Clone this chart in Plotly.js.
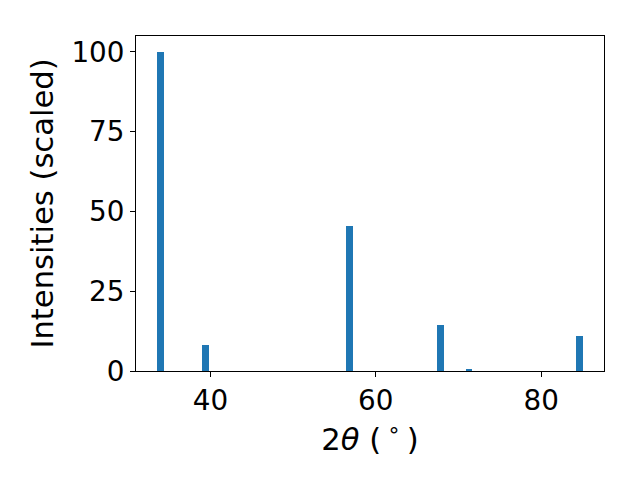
<!DOCTYPE html>
<html>
<head>
<meta charset="utf-8">
<script src="https://cdn.plot.ly/plotly-3.0.1.min.js"></script>
<style>html,body{margin:0;padding:0;background:#fff;}#chart{width:640px;height:480px;}</style>
</head>
<body>
<div id="chart"></div>
<script>
var twoTheta = [33.95, 39.4, 56.8, 67.8, 71.25, 84.6];
var intensities = [100, 8.2, 45.5, 14.4, 0.5, 11.0];
var xTicks = [40, 60, 80];
var yTicks = [0, 25, 50, 75, 100];

var tickFont = {family: 'DejaVu Sans', size: 27.8, color: '#000'};
var titleFont = {family: 'DejaVu Sans', size: 30.6, color: '#000'};
Plotly.newPlot('chart', [{
  type: 'bar',
  x: twoTheta,
  y: intensities,
  width: 0.8,
  marker: {color: '#1f77b4', line: {width: 0}},
  hoverinfo: 'skip'
}], {
  width: 640, height: 480,
  margin: {l: 136, r: 36, t: 36, b: 109, pad: 0},
  paper_bgcolor: '#fff', plot_bgcolor: '#fff',
  font: tickFont,
  showlegend: false,
  xaxis: {
    range: [31.0, 87.6],
    automargin: true,
    tickvals: xTicks, ticktext: xTicks.map(String),
    ticks: 'outside', ticklen: 5, tickwidth: 1, tickcolor: '#000',
    showgrid: false, zeroline: false,
    showline: true, linecolor: '#000', linewidth: 1, mirror: true,
    tickfont: tickFont,
    title: {text: '2<i>θ</i> (\u2009<sup>∘</sup>\u2009)', font: titleFont, standoff: 4}
  },
  yaxis: {
    range: [0, 105],
    tickvals: yTicks, ticktext: yTicks.map(String),
    ticks: 'outside', ticklen: 5, tickwidth: 1, tickcolor: '#000',
    showgrid: false, zeroline: false,
    showline: true, linecolor: '#000', linewidth: 1, mirror: true,
    tickfont: tickFont,
    title: {text: 'Intensities (scaled)', font: titleFont, standoff: 8}
  },
  bargap: 0
}, {staticPlot: true, displayModeBar: false});
</script>
</body>
</html>
